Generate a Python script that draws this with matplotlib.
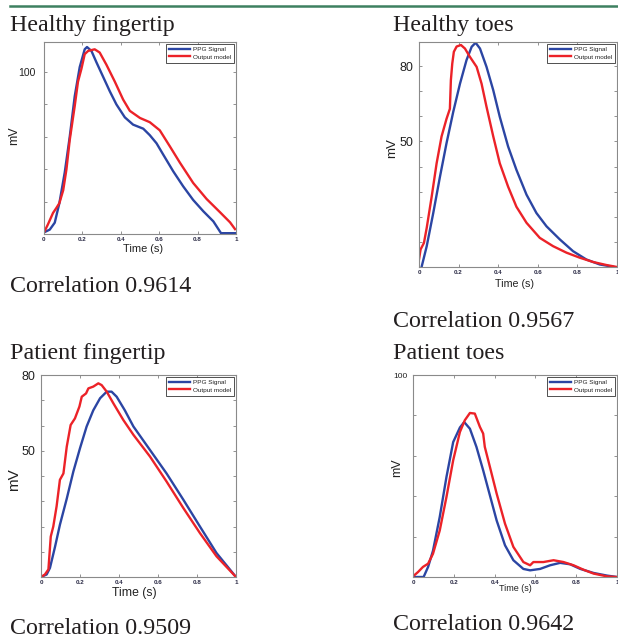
import matplotlib
matplotlib.use("Agg")
import matplotlib.pyplot as plt
import numpy as np

# Healthy fingertip
hf_t_ppg = [0, 0.03, 0.056, 0.08, 0.108, 0.134, 0.16, 0.186, 0.212, 0.224, 0.247, 0.273, 0.308, 0.343,
            0.377, 0.421, 0.464, 0.517, 0.551, 0.586, 0.621, 0.673, 0.725, 0.777, 0.83, 0.882, 0.922, 1.0]
hf_ppg = [1, 2.7, 7, 19, 38, 60, 85, 103, 114, 115.4, 113, 106, 97, 88,
          80, 72, 67.5, 65, 61, 56, 49, 38.7, 29.4, 21, 14, 7.8, 0.5, 0.5]
hf_t_mod = [0, 0.02, 0.047, 0.064, 0.08, 0.1, 0.117, 0.134, 0.16, 0.177, 0.195, 0.212, 0.23, 0.264, 0.29,
            0.325, 0.369, 0.412, 0.447, 0.5, 0.551, 0.603, 0.656, 0.708, 0.777, 0.847, 0.917, 0.969, 0.995]
hf_mod = [1, 5.8, 13, 16, 19, 27, 40, 58, 79, 94, 102, 111, 113, 114, 112,
          104.5, 94, 83, 76, 71.6, 69, 64, 54, 44, 31.5, 21.6, 13.4, 7.2, 3]

# Healthy toes
ht_t_ppg = [0.013, 0.039, 0.072, 0.106, 0.139, 0.173, 0.207, 0.24, 0.266, 0.286, 0.308, 0.341, 0.375, 0.408,
            0.45, 0.492, 0.543, 0.593, 0.644, 0.711, 0.778, 0.845, 0.913, 0.98]
ht_ppg = [0, 8.3, 21.5, 36, 49.3, 61.8, 73, 82.4, 87.7, 89.3, 87, 79.7, 70.4, 59.8,
          48, 38.7, 28.8, 21.5, 16.2, 11, 6.3, 3, 1, 0.1]
ht_t_mod = [0, 0.008, 0.025, 0.039, 0.064, 0.089, 0.114, 0.139, 0.156, 0.161, 0.168, 0.176, 0.19, 0.212,
            0.232, 0.257, 0.291, 0.316, 0.341, 0.375, 0.408, 0.45, 0.492, 0.543, 0.61, 0.677, 0.745, 0.812,
            0.879, 0.946, 1.0]
ht_mod = [3, 7, 9.6, 15.6, 28, 41.3, 52, 59, 63, 74.4, 81, 85.7, 87.8, 88.4,
          87, 83.7, 79.7, 73, 63.8, 52, 41.3, 32, 24, 17.6, 11.6, 8.3, 5.7, 3.7,
          2, 0.8, 0]

# Patient fingertip
pf_t_ppg = [0, 0.029, 0.046, 0.072, 0.097, 0.132, 0.166, 0.2, 0.234, 0.268, 0.303, 0.337, 0.362, 0.388,
            0.43, 0.474, 0.559, 0.644, 0.73, 0.815, 0.9, 1.0]
pf_ppg = [0, 1, 3.6, 12, 20.7, 31, 41.8, 51, 59.6, 66, 70.8, 73.4, 73.4, 71.4,
          66, 59.6, 50.3, 41, 30.6, 20, 9.5, 0]
pf_t_mod = [0, 0.02, 0.038, 0.05, 0.063, 0.08, 0.097, 0.115, 0.132, 0.152, 0.174, 0.197, 0.209, 0.231,
            0.243, 0.268, 0.294, 0.311, 0.337, 0.371, 0.422, 0.474, 0.559, 0.644, 0.73, 0.815, 0.9, 1.0]
pf_mod = [0, 1, 3, 16, 20, 28, 38.5, 41, 51.6, 60.2, 62.8, 67.5, 71.4, 72.7,
          74.7, 75.4, 76.7, 76, 73.4, 68.8, 62.2, 56.3, 47.7, 37.8, 27.3, 17.4, 8.2, 0]

# Patient toes
pt_t_ppg = [0, 0.052, 0.074, 0.098, 0.131, 0.164, 0.197, 0.23, 0.251, 0.279, 0.311, 0.344, 0.377, 0.41,
            0.451, 0.492, 0.541, 0.574, 0.623, 0.672, 0.721, 0.77, 0.82, 0.885, 0.951, 1.0]
pt_ppg = [0, 0, 5, 13, 29.7, 49.5, 66.8, 74, 76.7, 73.4, 64.4, 52.8, 40.4, 28,
          15.7, 8.3, 4, 3.3, 4, 5.8, 7, 6.3, 4, 2, 0.7, 0]
pt_t_mod = [0, 0.025, 0.049, 0.074, 0.098, 0.131, 0.164, 0.197, 0.23, 0.254, 0.279, 0.303, 0.328, 0.344,
            0.352, 0.377, 0.41, 0.451, 0.492, 0.541, 0.574, 0.59, 0.639, 0.689, 0.738, 0.787, 0.836, 0.885,
            0.951, 1.0]
pt_mod = [0.3, 2.5, 5, 6.6, 11.5, 23, 39.6, 57.8, 71.8, 77.6, 81.2, 80.9, 74.3, 71,
          64.4, 54.5, 41.3, 26.4, 14.9, 7.4, 5.8, 7.4, 7.4, 8.3, 7.4, 5.8, 3.6, 1.7,
          0.3, 0]

titles = ["Healthy fingertip", "Healthy toes", "Patient fingertip", "Patient toes"]
correlations = ["Correlation 0.9614", "Correlation 0.9567", "Correlation 0.9509", "Correlation 0.9642"]
x_ticks = [0, 0.2, 0.4, 0.6, 0.8, 1]
x_ticklabels = ["0", "0.2", "0.4", "0.6", "0.8", "1"]

BLUE = "#2b45a3"
RED = "#ec2228"
W, H = 618, 639


def px_axes(x0, y0, x1, y1):
    return [x0 / W, 1 - y1 / H, (x1 - x0) / W, (y1 - y0) / H]


def fig_text(x, y, s):
    fig.text(x / W, 1 - y / H, s, fontsize=17.3, family="Liberation Serif",
             color="#231f20", va="baseline", ha="left")


fig = plt.figure(figsize=(6.18, 6.39), dpi=100)

# green header rule (page of the paper)
fig.add_artist(plt.Line2D([10 / W, 1], [1 - 5.5 / H, 1 - 5.5 / H], color="#3d8060", lw=1.8))

panels = [
    dict(box=(44, 42, 236, 234), ppg=(hf_t_ppg, hf_ppg), mod=(hf_t_mod, hf_mod),
         ylim=(0, 118.5), yt=np.arange(0, 101, 20), ylab={100: "100"}, ysz=7.5, ypad=6,
         ylpos=(-0.125, 0.51), ylsz=9, xlpos=(0.516, -0.052), xlsz=7.9),
    dict(box=(419, 42, 617, 267), ppg=(ht_t_ppg, ht_ppg), mod=(ht_t_mod, ht_mod),
         ylim=(0, 89.6), yt=np.arange(0, 81, 10), ylab={50: "50", 80: "80"}, ysz=9, ypad=4,
         ylpos=(-0.103, 0.53), ylsz=9.5, xlpos=(0.48, -0.053), xlsz=7.7),
    dict(box=(41, 375, 236, 577), ppg=(pf_t_ppg, pf_ppg), mod=(pf_t_mod, pf_mod),
         ylim=(0, 80), yt=np.arange(0, 81, 10), ylab={50: "50", 80: "80"}, ysz=9, ypad=4,
         ylpos=(-0.103, 0.48), ylsz=11, xlpos=(0.48, -0.05), xlsz=8.8),
    dict(box=(413, 375, 617, 577), ppg=(pt_t_ppg, pt_ppg), mod=(pt_t_mod, pt_mod),
         ylim=(0, 100), yt=np.arange(0, 101, 20), ylab={100: "100"}, ysz=6, ypad=4,
         ylpos=(-0.049, 0.54), ylsz=9, xlpos=(0.5, -0.035), xlsz=6.5),
]

for p in panels:
    ax = fig.add_axes(px_axes(*p["box"]))
    ax.plot(*p["ppg"], color=BLUE, lw=1.7, label="PPG Signal")
    ax.plot(*p["mod"], color=RED, lw=1.7, label="Output model")
    ax.set_xlim(0, 1)
    ax.set_ylim(*p["ylim"])
    ax.set_xticks(x_ticks)
    ax.set_xticklabels(x_ticklabels, fontsize=4.5, color="#2a2a45",
                       family="Liberation Sans", fontweight="bold")
    ax.set_yticks(p["yt"])
    ax.set_yticklabels([p["ylab"].get(int(v), "") for v in p["yt"]],
                       fontsize=p["ysz"], family="Liberation Sans", color="#222")
    ax.tick_params(direction="in", top=True, right=True, length=2.5, width=0.5,
                   color="#666", pad=2)
    ax.tick_params(axis="y", pad=p["ypad"])
    for s in ax.spines.values():
        s.set_color("#8a8a8a")
        s.set_linewidth(0.8)
    ax.set_ylabel("mV", fontsize=p["ylsz"], family="Liberation Sans", color="#222")
    ax.yaxis.set_label_coords(*p["ylpos"])
    ax.set_xlabel("Time (s)", fontsize=p["xlsz"], family="Liberation Sans", color="#222")
    ax.xaxis.set_label_coords(*p["xlpos"])
    leg = ax.legend(loc="upper right", fontsize=4.6, handlelength=3.2, handletextpad=0.6,
                    borderpad=0.45, labelspacing=0.35, borderaxespad=0.25,
                    fancybox=False, framealpha=1, edgecolor="#333")
    leg.get_frame().set_linewidth(0.6)
    for t in leg.get_texts():
        t.set_family("Liberation Sans")
        t.set_color("#222")

fig_text(10, 31, titles[0])
fig_text(393, 31, titles[1])
fig_text(10, 292, correlations[0])
fig_text(393, 327, correlations[1])
fig_text(10, 359, titles[2])
fig_text(393, 359, titles[3])
fig_text(10, 634, correlations[2])
fig_text(393, 630, correlations[3])

fig.savefig("out.png", dpi=100)
